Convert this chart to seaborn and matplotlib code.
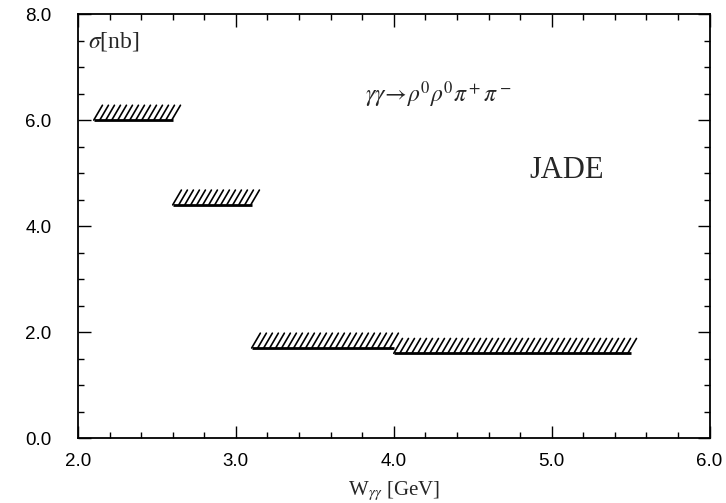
import numpy as np
import matplotlib
matplotlib.use('Agg')
import matplotlib.pyplot as plt
import seaborn as sns
from matplotlib.ticker import MultipleLocator, FormatStrFormatter

# data: upper limits per W bin
w_lo = [2.1, 2.6, 3.1, 4.0]
w_hi = [2.6, 3.1, 4.0, 5.5]
sigma_lim = [6.0, 4.4, 1.7, 1.6]

sns.set_style('ticks')
plt.rcParams['font.family'] = ['Liberation Sans', 'DejaVu Sans']
plt.rcParams['mathtext.fontset'] = 'stix'

fig = plt.figure(figsize = (7.26, 5.03), dpi = 100)
ax = fig.add_axes([0.1074, 0.129, 0.870, 0.843])

# hatched limit bands (steep slanted strokes above a solid base line)
hatch_h = 0.28
lean = 0.055
step = 0.038
for x0, x1, y in zip(w_lo, w_hi, sigma_lim):
    ax.hlines(y, x0, x1, color = 'black', lw = 2)
    xs = np.arange(x0, x1, step)
    hx, hy = [], []
    for x in xs:
        hx += [x, x + lean, np.nan]
        hy += [y, y + hatch_h, np.nan]
    ax.plot(hx, hy, color = 'black', lw = 1.2)

ax.set_xlim(2.0, 6.0)
ax.set_ylim(0.0, 8.0)
ax.xaxis.set_major_locator(MultipleLocator(1.0))
ax.xaxis.set_minor_locator(MultipleLocator(0.2))
ax.yaxis.set_major_locator(MultipleLocator(2.0))
ax.yaxis.set_minor_locator(MultipleLocator(0.5))
ax.xaxis.set_major_formatter(FormatStrFormatter('%.1f'))
ax.yaxis.set_major_formatter(FormatStrFormatter('%.1f'))
ax.tick_params(which = 'both', direction = 'in', top = True, right = True,
               colors = 'black', labelsize = 13.5)
ax.tick_params(which = 'major', length = 9, width = 1)
ax.tick_params(which = 'minor', length = 4, width = 1)
ax.tick_params(axis = 'x', pad = 11)
ax.tick_params(axis = 'y', pad = 19)
for s in ax.spines.values():
    s.set_linewidth(1.3)
    s.set_color('black')

ax.set_xlabel(r'W$_{\gamma\gamma}$ [GeV]', family = 'Liberation Serif', size = 15, labelpad = 6)
ax.text(0.016, 0.935, r'$\sigma$[nb]', transform = ax.transAxes, family = 'Liberation Serif',
        size = 17, va = 'center')
ax.text(0.454, 0.81, r'$\gamma\gamma\!\rightarrow\!\rho^0\rho^0\pi^+\pi^-$', transform = ax.transAxes,
        size = 17, va = 'center')
ax.text(0.715, 0.632, 'JADE', transform = ax.transAxes, family = 'Liberation Serif',
        size = 22, va = 'center')

plt.savefig('out.png', dpi = 100)
